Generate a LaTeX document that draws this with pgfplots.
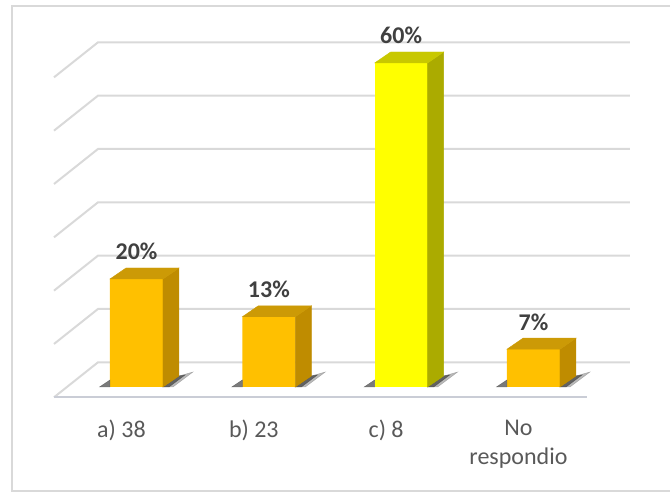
\documentclass[border=0pt]{standalone}
\usepackage{pgfplots}
\usepackage{pgfplotstable}
\pgfplotsset{compat=1.18}
\usepackage{fontspec}
\setmainfont{Carlito}

\definecolor{gridc}{HTML}{D9D9D9}
\definecolor{floorc}{HTML}{CACDD6}
\definecolor{orfront}{HTML}{FFC000}
\definecolor{orside}{HTML}{BF8C00}
\definecolor{ortop}{HTML}{CC9A06}
\definecolor{yefront}{HTML}{FFFF00}
\definecolor{yeside}{HTML}{ABAB00}
\definecolor{yetop}{HTML}{C8C800}
\definecolor{labc}{HTML}{404040}
\definecolor{tickc}{HTML}{595959}

% answers: position, share in percent
\pgfplotstableread{
x v
0 20
1 13
3 7
}\orangedata
\pgfplotstableread{
x v
2 60
}\yellowdata

% an invisible mark: the scatter code below draws the 3D faces instead
\pgfdeclareplotmark{blank}{}

\pgfplotsset{
  % side face, top face and floor shadow of a 3D column, drawn from its top
  prism/.style 2 args={
    scatter, only marks, mark=blank,
    visualization depends on={rawy \as \barval},
    scatter/@pre marker code/.code={
      \pgfmathsetlengthmacro\bh{\barval*5.4pt}
      \fill[black!50,opacity=.55] (26.5pt,-\bh) -- ++(16pt,11pt) -- ++(14pt,4pt) -- ++(-20pt,-15pt) -- cycle;
      \fill[black!70,opacity=.8] (26.5pt,-\bh) -- ++(16pt,11pt) -- ++(6pt,1pt) -- ++(-16pt,-12pt) -- cycle;
      \fill[black!65,opacity=.8] (-37pt,-\bh) -- ++(10.5pt,0pt) -- ++(0pt,7pt) -- cycle;
      \fill[#1] (26.5pt,0pt) -- ++(16pt,11pt) -- ++(0pt,-\bh) -- ++(-16pt,-11pt) -- cycle;
      \fill[#2] (-26.5pt,0pt) -- ++(16pt,11pt) -- ++(53pt,0pt) -- ++(-16pt,-11pt) -- cycle;
    },
    scatter/@post marker code/.code={},
  },
  front/.style={
    ybar, bar width=53pt, bar shift=0pt, draw=none, fill=#1,
    nodes near coords={\pgfmathprintnumber{\pgfplotspointmeta}\%},
    every node near coord/.append style={font=\bfseries\fontsize{24}{29}\selectfont,
      text=labc, anchor=base, inner sep=0pt, yshift=19pt},
  },
}

\begin{document}
\begin{tikzpicture}[x=1pt,y=1pt]
\useasboundingbox (0,0) rectangle (670,494);
\draw[gridc, line width=1.5pt] (12,3) rectangle (676,488);
\begin{axis}[
  at={(70.33pt,107pt)}, anchor=south west,
  x=132.33pt, y=5.4pt,
  xmin=-0.5, xmax=3.5, ymin=0, ymax=66,
  clip=false,
  axis line style={draw=none}, tick style={draw=none},
  ytick=\empty,
  xtick={0,1,2,3},
  xticklabels={a) 38, b) 23, c) 8, {No\\respondio}},
  xticklabel style={font=\fontsize{24}{29}\selectfont, text=tickc, align=center,
    anchor=north, inner sep=0pt, xshift=-15pt, yshift=-33pt},
  /pgf/number format/assume math mode=true,
]
% back wall gridlines with their slanted side-wall part, every 10%
\pgfplotsinvokeforeach{0,...,6}{
  \draw[gridc, line width=2pt]
    (axis cs:-0.6234,{(387-362.3+53.33*#1-35)/5.4}) --
    (axis cs:-0.2909,{(387-362.3+53.33*#1)/5.4}) --
    (axis cs:3.7292,{(387-362.3+53.33*#1)/5.4});
}
% front edge of the floor
\draw[floorc, line width=2pt] (axis cs:-0.6234,-1.907) -- (axis cs:3.4036,-1.907);

\addplot[prism={orside}{ortop}] table[x=x,y=v] {\orangedata};
\addplot[prism={yeside}{yetop}] table[x=x,y=v] {\yellowdata};
\addplot[front=orfront] table[x=x,y=v] {\orangedata};
\addplot[front=yefront] table[x=x,y=v] {\yellowdata};
\end{axis}
\end{tikzpicture}
\end{document}
